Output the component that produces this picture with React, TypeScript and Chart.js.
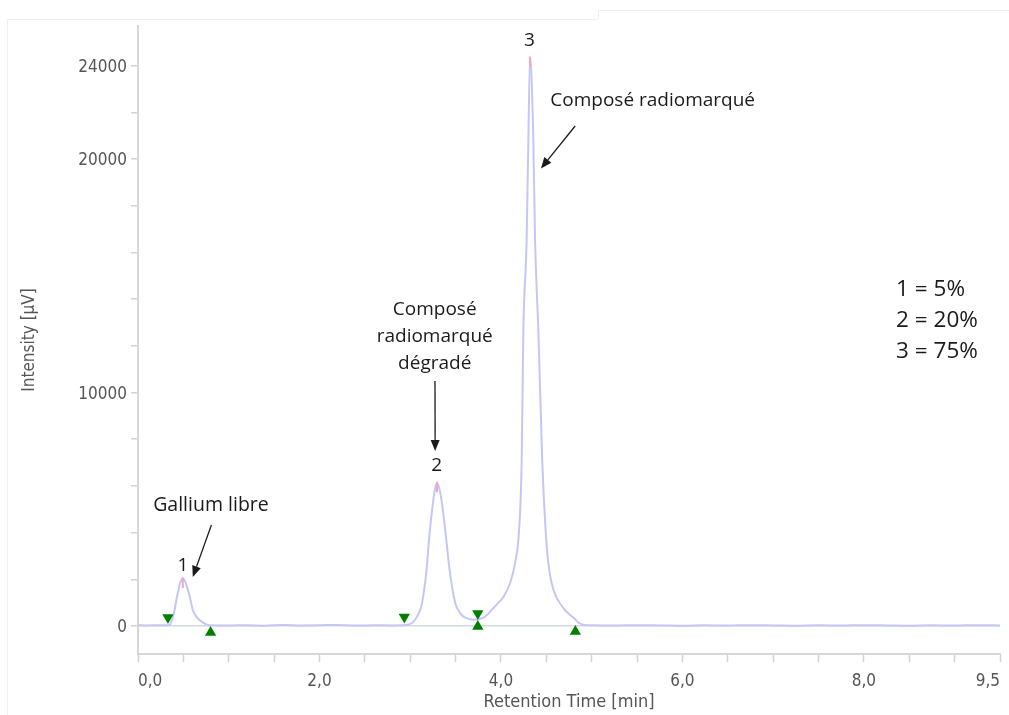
import React, { useEffect, useRef } from 'react';
import { Chart, registerables } from 'chart.js';

Chart.register(...registerables);

// Chromatogram (retention time in min, intensity in µV)
const TIME_MIN = [
  0.0, 0.1, 0.2, 0.3, 0.35, 0.367, 0.385, 0.403, 0.42, 0.439, 0.465, 0.494, 0.525, 0.56, 0.585, 0.604, 0.64, 0.678, 0.72, 0.76, 0.8,
  1.0, 1.2, 1.4, 1.6, 1.8, 2.0, 2.2, 2.4, 2.6, 2.8, 2.95,
  3.02, 3.075, 3.13, 3.18, 3.21, 3.25, 3.275, 3.295, 3.32, 3.35, 3.394, 3.434, 3.497, 3.55, 3.588, 3.65, 3.72,
  3.79, 3.85, 3.896, 3.96, 4.027, 4.101, 4.156, 4.2, 4.228, 4.247, 4.283, 4.302, 4.321, 4.357, 4.376, 4.412, 4.456, 4.492, 4.522, 4.558, 4.61, 4.66, 4.705, 4.76, 4.815, 4.86, 4.92,
  5.0, 5.25, 5.5, 5.75, 6.0, 6.25, 6.5, 6.75, 7.0, 7.25, 7.5, 7.75, 8.0, 8.25, 8.5, 8.75, 9.0, 9.25, 9.5,
];
const INTENSITY_UV = [
  30, 25, 35, 30, 45, 185, 400, 685, 1050, 1410, 1850, 2050, 1850, 1410, 1000, 685, 420, 257, 130, 60, 30,
  20, 35, 15, 40, 25, 30, 45, 20, 30, 25, 40,
  130, 400, 970, 2400, 3830, 5250, 5900, 6150, 5900, 5250, 3830, 2400, 970, 560, 400, 300, 270,
  330, 480, 685, 950, 1240, 1840, 2700, 4110, 6980, 12680, 16530, 20810, 24380, 20810, 16530, 12680, 6980, 4110, 2700, 1840, 1240, 920, 685, 480, 300, 130, 45,
  30, 20, 35, 25, 15, 30, 20, 35, 25, 15, 30, 20, 35, 25, 15, 30, 20, 35, 25,
];

// Integration markers (peak start ▼ / peak end ▲)
const START_MARK_TIME = [0.33, 2.935, 3.745];
const START_MARK_LEVEL = [360, 390, 530];
const END_MARK_TIME = [0.8, 3.745, 4.82];
const END_MARK_LEVEL = [-280, -20, -240];

// Apex ticks
const APEX_TIME = [0.494, 3.295, 4.321];
const APEX_LEVEL = [1840, 5940, 24170];

// Axis ticks
const X_TICKS = [0, 0.5, 1, 1.5, 2, 2.5, 3, 3.5, 4, 4.5, 5, 5.5, 6, 6.5, 7, 7.5, 8, 8.5, 9, 9.5];
const X_LABELED = [0, 2, 4, 6, 8, 9.5];
const Y_TICKS = [0, 2000, 4000, 6000, 8000, 10000, 12000, 14000, 16000, 18000, 20000, 22000, 24000];
const Y_LABELED = [0, 10000, 20000, 24000];

// Peak numbers and shares
const PEAK_NUMBERS = ['1', '2', '3'];
const PEAK_NUMBER_TIME = [0.496, 3.292, 4.313];
const PEAK_NUMBER_LEVEL = [2570, 6850, 25060];
const SHARE_LINES = ['1 = 5%', '2 = 20%', '3 = 75%'];
const SHARE_LEVEL = [14392, 13064, 11736];

const AXIS_FONT = 'Tahoma, "DejaVu Sans Condensed", "Noto Sans", sans-serif';
const NOTE_FONT = '"Open Sans", "Noto Sans", sans-serif';

const NOTES = [
  { text: 'Gallium libre', x: 0.804, y: 5183, align: 'center', size: 19.5 },
  { text: 'Composé', x: 3.27, y: 13535, align: 'center', size: 19 },
  { text: 'radiomarqué', x: 3.27, y: 12379, align: 'center', size: 19 },
  { text: 'dégradé', x: 3.27, y: 11223, align: 'center', size: 19 },
  { text: 'Composé radiomarqué', x: 4.544, y: 22488, align: 'left', size: 19 },
];

const ARROWS = [
  { x1: 0.809, y1: 4326, x2: 0.604, y2: 2099 },
  { x1: 3.273, y1: 10494, x2: 3.275, y2: 7496 },
  { x1: 4.818, y1: 21417, x2: 4.441, y2: 19597 },
];

const annotate = {
  id: 'annotate',
  afterDatasetsDraw(chart: any) {
    const { ctx, scales } = chart;
    const xs = scales.x;
    const ys = scales.y;
    ctx.save();
    ctx.fillStyle = '#1a1a1a';
    ctx.strokeStyle = '#1a1a1a';
    ctx.textBaseline = 'middle';
    for (const n of NOTES) {
      ctx.font = `${n.size}px ${NOTE_FONT}`;
      ctx.textAlign = n.align;
      ctx.fillText(n.text, xs.getPixelForValue(n.x), ys.getPixelForValue(n.y));
    }
    ctx.font = `19px ${NOTE_FONT}`;
    ctx.textAlign = 'center';
    PEAK_NUMBERS.forEach((t, i) => {
      ctx.fillText(t, xs.getPixelForValue(PEAK_NUMBER_TIME[i]), ys.getPixelForValue(PEAK_NUMBER_LEVEL[i]));
    });
    ctx.font = `22.5px ${NOTE_FONT}`;
    ctx.textAlign = 'left';
    SHARE_LINES.forEach((t, i) => {
      ctx.fillText(t, xs.getPixelForValue(8.355), ys.getPixelForValue(SHARE_LEVEL[i]));
    });
    for (const a of ARROWS) {
      const px1 = xs.getPixelForValue(a.x1);
      const py1 = ys.getPixelForValue(a.y1);
      const px2 = xs.getPixelForValue(a.x2);
      const py2 = ys.getPixelForValue(a.y2);
      const ang = Math.atan2(py2 - py1, px2 - px1);
      const head = 11;
      const half = 4.5;
      const bx = px2 - Math.cos(ang) * head;
      const by = py2 - Math.sin(ang) * head;
      ctx.lineWidth = 1.3;
      ctx.beginPath();
      ctx.moveTo(px1, py1);
      ctx.lineTo(bx, by);
      ctx.stroke();
      ctx.beginPath();
      ctx.moveTo(px2, py2);
      ctx.lineTo(bx + Math.sin(ang) * half, by - Math.cos(ang) * half);
      ctx.lineTo(bx - Math.sin(ang) * half, by + Math.cos(ang) * half);
      ctx.closePath();
      ctx.fill();
    }
    ctx.restore();
  },
};

const fmt = (v: number) => v.toFixed(1).replace('.', ',');

export default function App() {
  const ref = useRef<HTMLCanvasElement | null>(null);
  useEffect(() => {
    if (!ref.current) return;
    const chart = new Chart(ref.current, {
      type: 'scatter',
      data: {
        datasets: [
          {
            label: 'start',
            data: START_MARK_TIME.map((t, i) => ({ x: t, y: START_MARK_LEVEL[i] })),
            pointStyle: 'triangle',
            rotation: 180,
            pointRadius: 6.5,
            backgroundColor: '#007f00',
            borderColor: '#007f00',
            borderWidth: 0,
            order: 0,
          },
          {
            label: 'end',
            data: END_MARK_TIME.map((t, i) => ({ x: t, y: END_MARK_LEVEL[i] })),
            pointStyle: 'triangle',
            pointRadius: 6.5,
            backgroundColor: '#007f00',
            borderColor: '#007f00',
            borderWidth: 0,
            order: 0,
          },
          {
            label: 'apex',
            data: APEX_TIME.map((t, i) => ({ x: t, y: APEX_LEVEL[i] })),
            pointStyle: 'line',
            rotation: 90,
            pointRadius: 5,
            borderColor: '#f2a6c2',
            borderWidth: 2,
            order: 1,
          },
          {
            label: 'signal',
            data: TIME_MIN.map((t, i) => ({ x: t, y: INTENSITY_UV[i] })),
            showLine: true,
            pointRadius: 0,
            borderColor: '#c6c6f6',
            borderWidth: 2,
            cubicInterpolationMode: 'monotone',
            order: 2,
          },
        ],
      },
      options: {
        animation: false,
        responsive: true,
        maintainAspectRatio: false,
        layout: { padding: { left: 0, right: 6, top: 26, bottom: 0 } },
        plugins: { legend: { display: false }, tooltip: { enabled: false } },
        scales: {
          x: {
            type: 'linear',
            min: 0,
            max: 9.5,
            afterFit: (s: any) => { s.height = 61; },
            afterBuildTicks: (s: any) => { s.ticks = X_TICKS.map((v) => ({ value: v })); },
            ticks: {
              autoSkip: false,
              maxRotation: 0,
              align: 'inner',
              padding: 9,
              color: '#555',
              font: { family: AXIS_FONT, size: 17 },
              callback: (v: any) => (X_LABELED.includes(Number(v)) ? fmt(Number(v)) : ''),
            },
            grid: { drawOnChartArea: false, drawTicks: true, tickLength: 8, tickColor: '#d2d2d2', tickWidth: 1.5 },
            border: { color: '#d6d6d6', width: 2 },
            title: {
              display: true,
              text: 'Retention Time [min]',
              color: '#555',
              font: { family: AXIS_FONT, size: 18 },
              padding: { top: 0, bottom: 2 },
            },
          },
          y: {
            type: 'linear',
            min: -1200,
            max: 25700,
            afterFit: (s: any) => { s.width = 138; },
            afterBuildTicks: (s: any) => { s.ticks = Y_TICKS.map((v) => ({ value: v })); },
            ticks: {
              autoSkip: false,
              padding: 4,
              labelOffset: 2,
              color: '#555',
              font: { family: AXIS_FONT, size: 17 },
              callback: (v: any) => (Y_LABELED.includes(Number(v)) ? String(v) : ''),
            },
            grid: {
              drawOnChartArea: true,
              drawTicks: true,
              tickLength: 7,
              tickColor: '#d2d2d2',
              tickWidth: 1.5,
              color: (c: any) => (c.tick && c.tick.value === 0 ? '#d3dade' : 'rgba(0,0,0,0)'),
              lineWidth: 1.5,
            },
            border: { color: '#d6d6d6', width: 2 },
            title: {
              display: true,
              text: 'Intensity [µV]',
              color: '#555',
              font: { family: AXIS_FONT, size: 17 },
              padding: { top: 19.5, bottom: 0 },
            },
          },
        },
      },
      plugins: [annotate],
    } as any);
    return () => chart.destroy();
  }, []);

  return (
    <div style={{ position: 'absolute', left: 0, top: 0, width: 1009, height: 715, background: '#fff' }}>
      <div style={{ position: 'absolute', left: 7, top: 19, width: 591, height: 0, borderTop: '1px solid #efefef' }} />
      <div style={{ position: 'absolute', left: 598, top: 10, width: 411, height: 0, borderTop: '1px solid #efefef' }} />
      <div style={{ position: 'absolute', left: 598, top: 10, width: 0, height: 9, borderLeft: '1px solid #efefef' }} />
      <div style={{ position: 'absolute', left: 7, top: 19, width: 0, height: 696, borderLeft: '1px solid #efefef' }} />
      <canvas ref={ref} style={{ position: 'absolute', left: 0, top: 0 }} />
    </div>
  );
}
